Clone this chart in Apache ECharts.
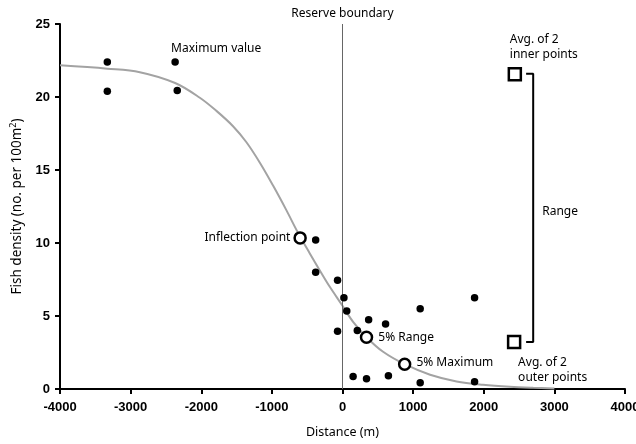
<!DOCTYPE html>
<html><head><meta charset="utf-8">
<script src="https://cdn.jsdelivr.net/npm/echarts@6/dist/echarts.min.js"></script>
<style>html,body{margin:0;padding:0;background:#fff}#c{width:636px;height:444px}</style>
</head><body><div id="c"></div>
<script>
// Observed fish densities
const obsX = [-3330, -3330, -2370, -2340, -380, -380, -70, 20, 60, -70, 210, 370, 610, 1100, 1870, 150, 340, 650, 1100, 1870];
const obsY = [22.4, 20.4, 22.4, 20.45, 10.2, 8.0, 7.45, 6.25, 5.35, 3.95, 4.0, 4.75, 4.45, 5.5, 6.25, 0.85, 0.7, 0.9, 0.43, 0.5];
// Fitted curve
const curveX = [-4000, -3330, -2870, -2370, -2020, -1785, -1550, -1360, -1170, -985, -795, -630, -465, -300, -180, 0, 150, 340, 575, 880, 1240, 1615, 1990, 2370, 2700, 3000];
const curveY = [22.17, 21.94, 21.7, 20.96, 19.95, 19.05, 18.0, 16.9, 15.5, 13.95, 12.25, 10.7, 9.3, 7.95, 7.0, 5.7, 4.6, 3.55, 2.55, 1.7, 0.98, 0.52, 0.29, 0.15, 0.08, 0.04];
// Key points on the curve
const keyX = [-600, 340, 880];
const keyY = [10.35, 3.55, 1.7];
const keyNames = ['Inflection point', '5% Range', '5% Maximum'];
// Averages of inner / outer points
const avgX = [2440, 2430];
const avgY = [21.55, 3.22];
const avgNames = ['Avg. of 2\ninner points', 'Avg. of 2\nouter points'];
// Range bracket
const bracketX = [2600, 2700, 2700, 2600];
const bracketY = [21.6, 21.6, 3.22, 3.22];
const boundaryX = 0;
const xTicks = [-4000, 4000, 1000];
const yTicks = [0, 25, 5];

const txtFont = 'Noto Sans';
const tickFont = "'Liberation Sans', Arial, sans-serif";
const chart = echarts.init(document.getElementById('c'), null, {renderer: 'canvas'});
const zip = (a, b) => a.map((v, i) => [v, b[i]]);

const keyLabelCfg = [
  {position: 'left', distance: 3},
  {position: 'right', distance: 5},
  {position: 'right', distance: 5, offset: [0, -2]}
];
const avgLabelCfg = [
  {position: 'top', align: 'left', distance: 5, offset: [-5, 0]},
  {position: 'bottom', align: 'left', distance: 6, offset: [4, 0]}
];

chart.setOption({
  animation: false,
  grid: {left: 60, right: 11, top: 24, bottom: 55, outerBoundsMode: 'none', containLabel: false},
  xAxis: {
    type: 'value', min: xTicks[0], max: xTicks[1], interval: xTicks[2],
    name: 'Distance (m)', nameLocation: 'middle', nameGap: 37,
    nameTextStyle: {fontFamily: txtFont, fontSize: 12.5, color: '#000'},
    splitLine: {show: false},
    axisLine: {onZero: false, lineStyle: {color: '#000', width: 2}},
    axisTick: {length: 5, lineStyle: {color: '#000', width: 2}},
    axisLabel: {margin: 12, color: '#000', fontFamily: tickFont, fontWeight: 'bold', fontSize: 13, formatter: v => String(v)}
  },
  yAxis: {
    type: 'value', min: yTicks[0], max: yTicks[1], interval: yTicks[2],
    name: 'Fish density (no. per 100m{sup|2})', nameLocation: 'middle', nameGap: 34,
    nameTextStyle: {fontFamily: txtFont, fontSize: 13.5, color: '#000',
      rich: {sup: {fontSize: 9, verticalAlign: 'top', padding: [0, 0, 8, 0], fontFamily: txtFont, color: '#000'}}},
    splitLine: {show: false},
    axisLine: {onZero: false, lineStyle: {color: '#000', width: 2}},
    axisTick: {length: 5, lineStyle: {color: '#000', width: 2}},
    axisLabel: {margin: 10, color: '#000', fontFamily: tickFont, fontWeight: 'bold', fontSize: 13, formatter: v => String(v)}
  },
  series: [
    {
      type: 'line', data: zip(curveX, curveY), smooth: 0.35, showSymbol: false, z: 1,
      lineStyle: {color: '#a3a3a3', width: 2}, silent: true
    },
    {
      type: 'scatter', data: zip(obsX, obsY), symbol: 'circle', symbolSize: 7.5, z: 3,
      itemStyle: {color: '#000', opacity: 1},
      markLine: {
        silent: true, symbol: 'none', z: 2,
        lineStyle: {color: '#666', width: 1, type: 'solid'},
        label: {show: true, position: 'end', distance: 4, formatter: 'Reserve boundary', color: '#000', fontFamily: txtFont, fontSize: 12},
        data: [{xAxis: boundaryX}]
      }
    },
    {
      type: 'scatter', symbol: 'circle', symbolSize: 11, z: 4,
      itemStyle: {color: '#fff', borderColor: '#000', borderWidth: 2.5, opacity: 1},
      data: keyX.map((x, i) => ({value: [x, keyY[i]],
        label: Object.assign({show: true, formatter: keyNames[i], color: '#000', fontFamily: txtFont, fontSize: 12}, keyLabelCfg[i])}))
    },
    {
      type: 'line', data: zip(bracketX, bracketY), showSymbol: false, z: 3,
      lineStyle: {color: '#000', width: 2}
    },
    {
      type: 'scatter', symbol: 'rect', symbolSize: 12, z: 4,
      itemStyle: {color: '#fff', borderColor: '#000', borderWidth: 2.5, opacity: 1},
      data: avgX.map((x, i) => ({value: [x, avgY[i]],
        label: Object.assign({show: true, formatter: avgNames[i], color: '#000', fontFamily: txtFont, fontSize: 12, lineHeight: 15}, avgLabelCfg[i])}))
    },
    {
      type: 'scatter', symbolSize: 0, z: 4, itemStyle: {opacity: 1},
      data: [{value: [bracketX[1], (avgY[0] + avgY[1]) / 2],
        label: {show: true, position: 'right', distance: 9, offset: [0, 3], formatter: 'Range', color: '#000', fontFamily: txtFont, fontSize: 12}}]
    },
    {
      type: 'scatter', symbolSize: 0, z: 4, itemStyle: {opacity: 1},
      data: [{value: [obsX[2], obsY[2]],
        label: {show: true, position: 'top', align: 'left', distance: 7, offset: [-4, 0], formatter: 'Maximum value', color: '#000', fontFamily: txtFont, fontSize: 12}}]
    }
  ]
});
</script></body></html>
